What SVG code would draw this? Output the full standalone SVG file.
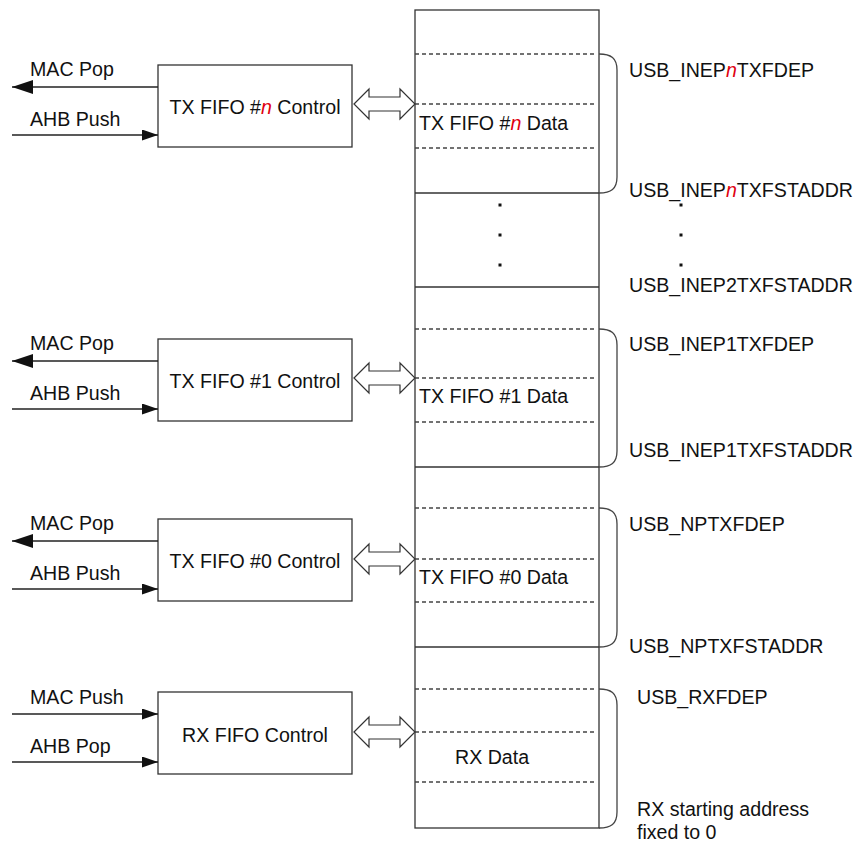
<svg xmlns="http://www.w3.org/2000/svg" width="855" height="843" viewBox="0 0 855 843">
<style>
text{font-family:"Liberation Sans",Arial,Helvetica,sans-serif;font-size:19.6px;fill:#111}
.box{fill:#fff;stroke:#333;stroke-width:1.3}
.solid{stroke:#333;stroke-width:1.3;fill:none}
.dash{stroke:#444;stroke-width:1.3;stroke-dasharray:4 3;fill:none}
.brace{stroke:#444;stroke-width:1.3;fill:none}
.sig{stroke:#222;stroke-width:1.3;fill:none}
.pop{marker-end:url(#bigHead)}
.push{marker-end:url(#smallHead)}
.dbl{fill:#fff;stroke:#333;stroke-width:1.2}
.dot{fill:#111}
.n{fill:#e00010;font-style:italic}
.mid{text-anchor:middle}
</style>
<defs>
<marker id="bigHead" markerUnits="userSpaceOnUse" markerWidth="22" markerHeight="16" refX="21" refY="7" orient="auto"><path d="M0,0 L21,7 L0,14 Z" fill="#111"/></marker>
<marker id="smallHead" markerUnits="userSpaceOnUse" markerWidth="17" markerHeight="12" refX="16" refY="5.5" orient="auto"><path d="M0,0 L16,5.5 L0,11 Z" fill="#111"/></marker>
</defs>

<g id="memory">
<rect class="box" x="415" y="10" width="184" height="818"/>
<line class="solid" x1="415" y1="193" x2="599" y2="193"/>
<line class="solid" x1="415" y1="287" x2="599" y2="287"/>
<line class="solid" x1="415" y1="467" x2="599" y2="467"/>
<line class="solid" x1="415" y1="647" x2="599" y2="647"/>
<line class="dash" x1="415" y1="54" x2="597" y2="54"/>
<line class="dash" x1="415" y1="104" x2="597" y2="104"/>
<line class="dash" x1="415" y1="148" x2="597" y2="148"/>
<line class="dash" x1="415" y1="329" x2="597" y2="329"/>
<line class="dash" x1="415" y1="378" x2="597" y2="378"/>
<line class="dash" x1="415" y1="422" x2="597" y2="422"/>
<line class="dash" x1="415" y1="508" x2="597" y2="508"/>
<line class="dash" x1="415" y1="559" x2="597" y2="559"/>
<line class="dash" x1="415" y1="602" x2="597" y2="602"/>
<line class="dash" x1="415" y1="689" x2="597" y2="689"/>
<line class="dash" x1="415" y1="732" x2="597" y2="732"/>
<line class="dash" x1="415" y1="782" x2="597" y2="782"/>
<rect class="dot" x="498.5" y="203.5" width="3" height="3"/>
<rect class="dot" x="498.5" y="233.5" width="3" height="3"/>
<rect class="dot" x="498.5" y="263.5" width="3" height="3"/>
<text x="419" y="130">TX FIFO #<tspan class="n">n</tspan> Data</text>
<text x="419" y="403">TX FIFO #1 Data</text>
<text x="419" y="584">TX FIFO #0 Data</text>
<text x="455" y="764">RX Data</text>
</g>

<g id="braces">
<path class="brace" d="M599,54 C611,54 617,58 617,70 L617,177 C617,189 611,193 599,193"/>
<path class="brace" d="M599,329 C611,329 617,333 617,345 L617,451 C617,463 611,467 599,467"/>
<path class="brace" d="M599,508 C611,508 617,512 617,524 L617,631 C617,643 611,647 599,647"/>
<path class="brace" d="M599,689 C611,689 617,693 617,705 L617,812 C617,824 611,828 599,828"/>
</g>

<g id="registers">
<text x="629" y="77">USB_INEP<tspan class="n">n</tspan>TXFDEP</text>
<text x="629" y="197">USB_INEP<tspan class="n">n</tspan>TXFSTADDR</text>
<rect class="dot" x="679.5" y="203.5" width="3" height="3"/>
<rect class="dot" x="679.5" y="233.5" width="3" height="3"/>
<rect class="dot" x="679.5" y="263.5" width="3" height="3"/>
<text x="629" y="292">USB_INEP2TXFSTADDR</text>
<text x="629" y="351">USB_INEP1TXFDEP</text>
<text x="629" y="457">USB_INEP1TXFSTADDR</text>
<text x="629" y="531">USB_NPTXFDEP</text>
<text x="629" y="653">USB_NPTXFSTADDR</text>
<text x="637" y="704">USB_RXFDEP</text>
<text x="637" y="816">RX starting address</text>
<text x="637" y="839">fixed to 0</text>
</g>

<g id="txn-control">
<rect class="box" x="158" y="65" width="194" height="82"/>
<text class="mid" x="255" y="114">TX FIFO #<tspan class="n">n</tspan> Control</text>
</g>
<g id="tx1-control">
<rect class="box" x="158" y="339" width="194" height="82"/>
<text class="mid" x="255" y="388">TX FIFO #1 Control</text>
</g>
<g id="tx0-control">
<rect class="box" x="158" y="519" width="194" height="82"/>
<text class="mid" x="255" y="568">TX FIFO #0 Control</text>
</g>
<g id="rx-control">
<rect class="box" x="158" y="692" width="194" height="82"/>
<text class="mid" x="255" y="742">RX FIFO Control</text>
</g>

<g id="connectors">
<line class="sig pop" x1="158" y1="87" x2="12" y2="87"/>
<line class="sig push" x1="12" y1="135" x2="158" y2="135"/>
<line class="sig pop" x1="158" y1="361" x2="12" y2="361"/>
<line class="sig push" x1="12" y1="409" x2="158" y2="409"/>
<line class="sig pop" x1="158" y1="541" x2="12" y2="541"/>
<line class="sig push" x1="12" y1="589" x2="158" y2="589"/>
<line class="sig push" x1="12" y1="714" x2="158" y2="714"/>
<line class="sig push" x1="12" y1="762" x2="158" y2="762"/>
<polygon class="dbl" points="354,104 369,89 369,97 400,97 400,89 415,104 400,119 400,111 369,111 369,119"/>
<polygon class="dbl" points="354,378 369,363 369,371 400,371 400,363 415,378 400,393 400,385 369,385 369,393"/>
<polygon class="dbl" points="354,559 369,544 369,552 400,552 400,544 415,559 400,574 400,566 369,566 369,574"/>
<polygon class="dbl" points="354,732 369,717 369,725 400,725 400,717 415,732 400,747 400,739 369,739 369,747"/>
</g>

<g id="signal-labels">
<text x="30" y="76">MAC Pop</text>
<text x="30" y="126">AHB Push</text>
<text x="30" y="350">MAC Pop</text>
<text x="30" y="400">AHB Push</text>
<text x="30" y="530">MAC Pop</text>
<text x="30" y="580">AHB Push</text>
<text x="30" y="704">MAC Push</text>
<text x="30" y="753">AHB Pop</text>
</g>
</svg>
